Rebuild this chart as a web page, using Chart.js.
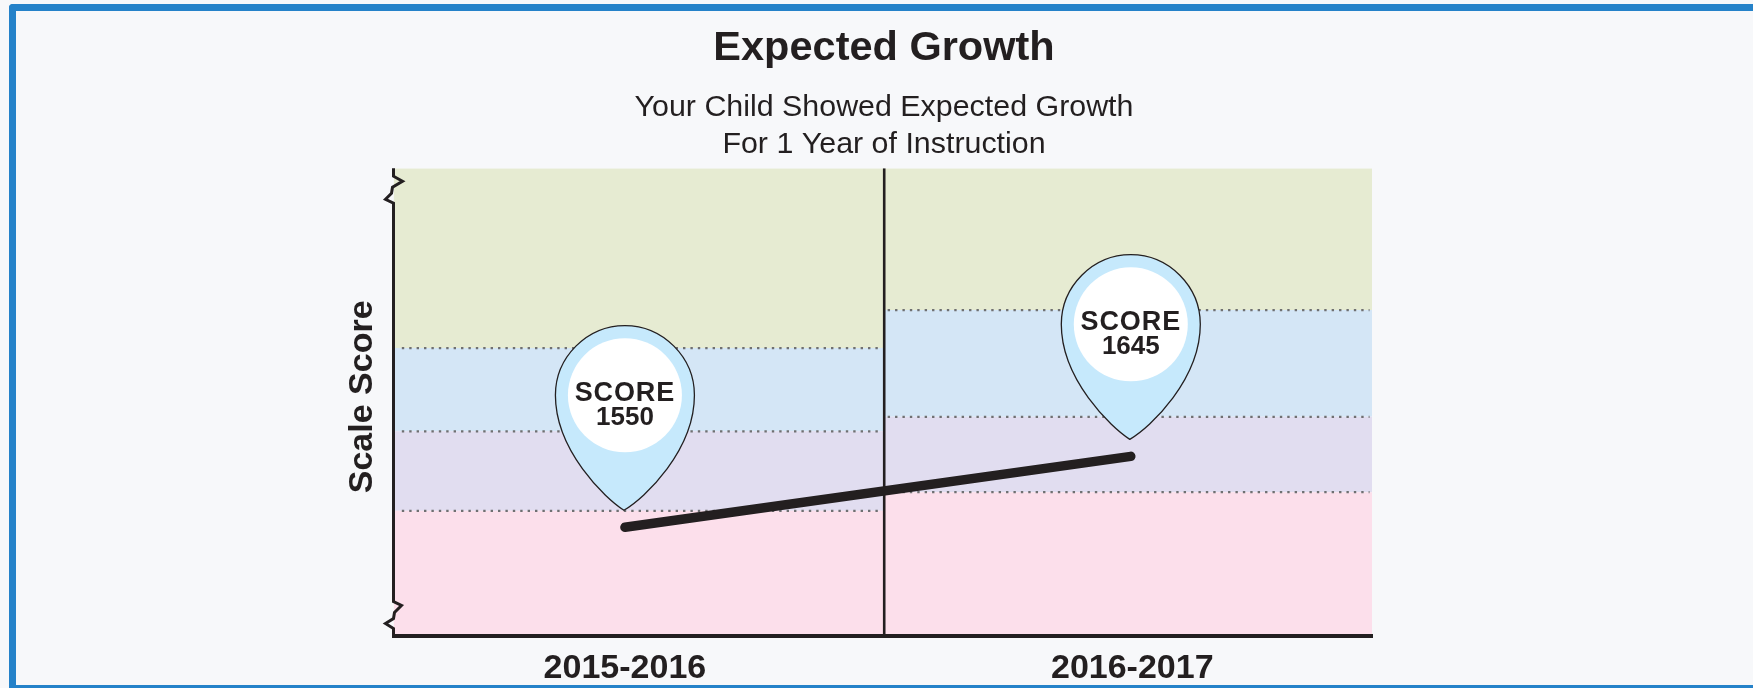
<!DOCTYPE html>
<html><head><meta charset="utf-8">
<style>
html,body{margin:0;padding:0;background:#f7f8fa;overflow:hidden}
#frame{position:absolute;left:9px;top:4px;width:1744px;height:684px;box-sizing:border-box;border:solid #2582c9;border-width:7px 0 3px 7px;border-top-left-radius:4px}
canvas{position:absolute;left:0;top:0}
</style>
<script src="https://cdn.jsdelivr.net/npm/chart.js@4"></script>
</head><body>
<div id="frame"></div>
<canvas id="c" width="1753" height="688"></canvas>
<script>
const chartTitle = "Expected Growth";
const chartSubtitle = ["Your Child Showed Expected Growth", "For 1 Year of Instruction"];
const yAxisTitle = "Scale Score";
const years = ["2015-2016", "2016-2017"];
const yearLabelPositions = [0.473, 1.51];
const yearPositions = [0.473, 1.507];
const scores = [1550, 1645];
const pinWords = "SCORE";
const yMin = 1405, yMax = 2031;
const xMin = 0, xSplit = 1.003, xMax = 2;
const cuts2016 = [1572, 1678.5, 1790];
const cuts2017 = [1597, 1698, 1841];
const bandColors = ["#fcdfeb", "#e1ddf0", "#d4e6f6", "#e6ebd2"];
const ink = "#231f20";

function bandSets(cuts, x0, x1) {
  const edges = [yMin, ...cuts, yMax];
  return bandColors.map((c, i) => ({
    data: [{x: x0, y: edges[i + 1]}, {x: x1, y: edges[i + 1]}],
    fill: {target: {value: edges[i]}},
    backgroundColor: c, borderWidth: 0, pointRadius: 0, tension: 0
  }));
}
function dotSets(cuts, x0, x1) {
  return cuts.map(v => ({
    data: [{x: x0, y: v}, {x: x1, y: v}],
    borderColor: "#6f7072", borderWidth: 2.2, borderDash: [2.4, 5],
    pointRadius: 0, fill: false
  }));
}

const pinPlugin = {
  id: "pins",
  afterDatasetsDraw(chart) {
    const {ctx, scales: {x, y}} = chart;
    scores.forEach((s, i) => {
      const px = x.getPixelForValue(yearPositions[i]);
      const py = y.getPixelForValue(s);
      const tipY = py - 17, topY = py - 201.7, cy = py - 132, hw = 69.5;
      ctx.save();
      ctx.beginPath();
      ctx.moveTo(px - 1, tipY);
      ctx.bezierCurveTo(px - 20, tipY - 12, px - hw, tipY - 60, px - hw, cy);
      ctx.bezierCurveTo(px - hw, cy - 38, px - 38, topY, px, topY);
      ctx.bezierCurveTo(px + 38, topY, px + hw, cy - 38, px + hw, cy);
      ctx.bezierCurveTo(px + hw, tipY - 60, px + 20, tipY - 12, px - 1, tipY);
      ctx.closePath();
      ctx.fillStyle = "#c6e9fc";
      ctx.fill();
      ctx.lineWidth = 1.3;
      ctx.strokeStyle = ink;
      ctx.stroke();
      ctx.beginPath();
      ctx.ellipse(px, cy, 57, 57, 0, 0, Math.PI * 2);
      ctx.fillStyle = "#fff";
      ctx.fill();
      ctx.fillStyle = ink;
      ctx.textAlign = "center";
      ctx.textBaseline = "alphabetic";
      ctx.font = "bold 27px 'Liberation Sans'";
      ctx.letterSpacing = "0.9px";
      ctx.fillText(pinWords, px, py - 126.4);
      ctx.letterSpacing = "0px";
      ctx.font = "bold 26px 'Liberation Sans'";
      ctx.fillText(String(s), px, py - 102.4);
      ctx.restore();
    });
  },
  afterDraw(chart) {
    // y axis with the two break marks, and its title
    const {ctx, chartArea: {left: l, top: t, bottom: b}} = chart;
    ctx.save();
    ctx.strokeStyle = ink; ctx.lineWidth = 3; ctx.lineJoin = "miter";
    ctx.beginPath();
    [[0, t], [0, t + 8], [9, t + 13], [-1, t + 19], [-2, t + 25], [-8, t + 31], [0, t + 35],
     [0, b - 34], [8, b - 30], [1, b - 23], [0, b - 17], [-8, b - 12], [0, b - 7], [0, b]]
      .forEach((p, i) => i ? ctx.lineTo(l + p[0], p[1]) : ctx.moveTo(l + p[0], p[1]));
    ctx.stroke();
    ctx.translate(l - 21.5, (t + b) / 2 - 5);
    ctx.rotate(-Math.PI / 2);
    ctx.fillStyle = ink;
    ctx.font = "bold 34px 'Liberation Sans'";
    ctx.textAlign = "center";
    ctx.textBaseline = "alphabetic";
    ctx.fillText(yAxisTitle, 0, 0);
    ctx.restore();
  }
};

new Chart(document.getElementById("c"), {
  type: "line",
  data: {datasets: [
    {data: scores.map((s, i) => ({x: yearPositions[i], y: s})), borderColor: ink, borderWidth: 9.5, borderCapStyle: "round", pointRadius: 0, fill: false, tension: 0},
    {data: [{x: xSplit, y: yMin}, {x: xSplit, y: yMax}], borderColor: ink, borderWidth: 2.6, pointRadius: 0, fill: false},
    ...dotSets(cuts2016, 0.017, 0.99),
    ...dotSets(cuts2017, 1.01, 1.995),
    ...bandSets(cuts2016, xMin, xSplit),
    ...bandSets(cuts2017, xSplit, xMax)
  ]},
  plugins: [pinPlugin],
  options: {
    responsive: false, animation: false, devicePixelRatio: 1,
    layout: {padding: {left: 15, right: 0, top: 24, bottom: 0}},
    plugins: {
      legend: {display: false}, tooltip: {enabled: false},
      title: {display: true, text: chartTitle, color: ink,
        font: {family: "'Liberation Sans'", size: 41.5, weight: "bold"}, padding: {top: 0, bottom: 15}},
      subtitle: {display: true, text: chartSubtitle, color: ink,
        font: {family: "'Liberation Sans'", size: 30.4, weight: "normal", lineHeight: 1.224}, padding: {top: 0, bottom: 5}}
    },
    scales: {
      x: {type: "linear", min: xMin, max: xMax,
        afterBuildTicks(a) { a.ticks = yearLabelPositions.map(v => ({value: v})); },
        afterFit(a) { a.height = 52.5; },
        grid: {display: false, drawTicks: false},
        border: {display: true, color: ink, width: 4, z: 1},
        ticks: {autoSkip: false, maxRotation: 0, padding: 13, color: ink,
          font: {family: "'Liberation Sans'", size: 34, weight: "bold"},
          callback(v) { return years[yearLabelPositions.indexOf(v)]; }}},
      y: {type: "linear", min: yMin, max: yMax,
        afterFit(a) { a.width = 378.5; },
        grid: {display: false}, border: {display: false},
        ticks: {display: false}},
      spacer: {axis: "y", type: "linear", position: "right", min: yMin, max: yMax,
        afterFit(a) { a.width = 381; },
        grid: {display: false}, border: {display: false},
        ticks: {display: false}}
    }
  }
});
</script>
</body></html>
